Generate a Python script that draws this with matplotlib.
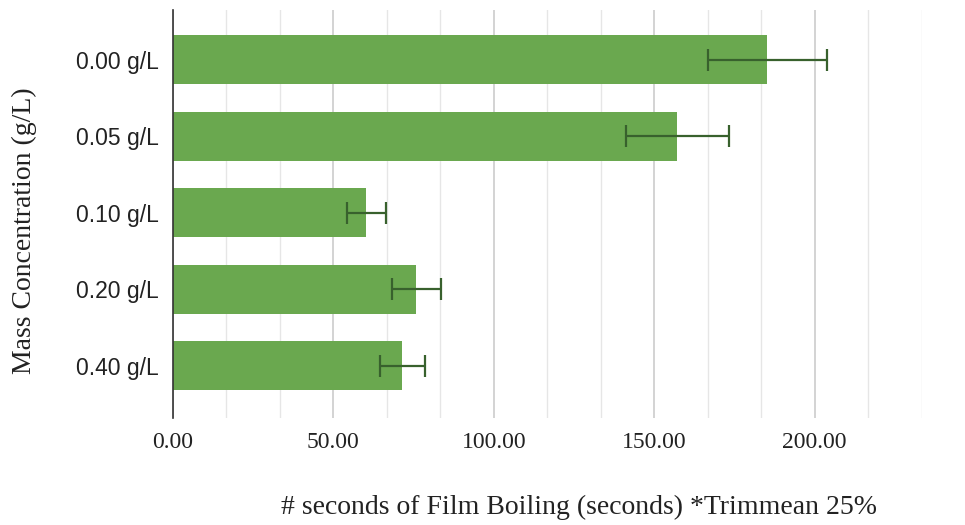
import matplotlib
matplotlib.use('Agg')
import matplotlib.pyplot as plt
import numpy as np
from matplotlib.ticker import MultipleLocator, FormatStrFormatter

# data
labels = ['0.00 g/L', '0.05 g/L', '0.10 g/L', '0.20 g/L', '0.40 g/L']
seconds = [185.3, 157.2, 60.2, 75.8, 71.5]
errors = [18.5, 16.0, 6.1, 7.6, 7.1]

bar_col = '#6aa84f'
err_col = '#38612d'

fig = plt.figure(figsize=(9.65, 5.25), dpi=100)
ax = fig.add_axes([0.1793, 0.204, 0.7757, 0.777])

y = np.arange(len(labels))
ax.barh(y, seconds, height=0.64, color=bar_col, zorder=2)
ax.errorbar(seconds, y, xerr=errors, fmt='none', ecolor=err_col,
            elinewidth=1.6, capsize=8, capthick=1.6, zorder=3)

ax.set_xlim(0, 233.34)
ax.set_ylim(len(labels) - 1 + 0.68, -0.65)
ax.set_yticks(y)
ax.set_yticklabels(labels, fontsize=16.5, family='Liberation Sans', color='#222222')

ax.xaxis.set_major_locator(MultipleLocator(50))
ax.xaxis.set_minor_locator(MultipleLocator(50 / 3))
ax.xaxis.set_major_formatter(FormatStrFormatter('%.2f'))
for lab in ax.get_xticklabels():
    lab.set_family('Liberation Serif')
    lab.set_fontsize(17)
    lab.set_color('#222222')
ax.tick_params(axis='both', which='both', length=0)
ax.tick_params(axis='x', pad=10)
ax.tick_params(axis='y', pad=10)

ax.grid(axis='x', which='major', color='#cccccc', linewidth=1.2, zorder=0)
ax.grid(axis='x', which='minor', color='#e6e6e6', linewidth=1.0, zorder=0)
ax.set_axisbelow(True)

for s in ['top', 'right', 'bottom']:
    ax.spines[s].set_visible(False)
ax.spines['left'].set_color('#333333')
ax.spines['left'].set_linewidth(1.2)
ax.spines['left'].set_zorder(4)

ax.set_xlabel('# seconds of Film Boiling (seconds) *Trimmean 25%',
              family='Liberation Serif', fontsize=20, color='#222222')
ax.set_ylabel('Mass Concentration (g/L)', family='Liberation Serif',
              fontsize=20, color='#222222')
ax.xaxis.set_label_coords(0.543, -0.189)
ax.yaxis.set_label_coords(-0.182, 0.46)

fig.savefig('out.png', dpi=100)
